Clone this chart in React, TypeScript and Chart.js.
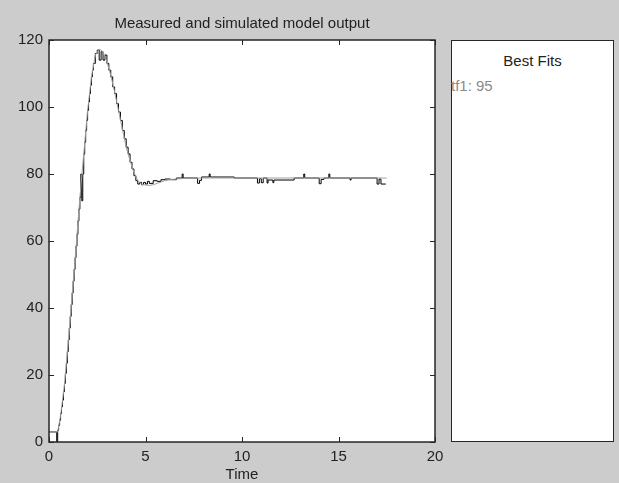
import React, { useEffect, useRef } from "react";
import { Chart, registerables } from "chart.js";

Chart.register(...registerables);

// ---- data ----
const titleText = "Measured and simulated model output";
const xAxisLabel = "Time";
const xTicks = [0, 5, 10, 15, 20];
const yTicks = [0, 20, 40, 60, 80, 100, 120];
const fitTitle = "Best Fits";
const fitEntries = ["tf1: 95"];

// measured output (sample-and-hold, noisy)
const measTime = [
  0, 0.1, 0.2, 0.3, 0.4, 0.45, 0.5, 0.55, 0.6, 0.65, 0.7, 0.75, 0.8, 0.85, 0.9, 0.95, 1.0,
  1.05, 1.1, 1.15, 1.2, 1.25, 1.3, 1.35, 1.4, 1.45, 1.5, 1.55, 1.6, 1.65, 1.7, 1.75, 1.8,
  1.85, 1.9, 1.95, 2.0, 2.05, 2.1, 2.15, 2.2, 2.25, 2.3, 2.4, 2.5, 2.6, 2.7, 2.8, 2.9, 3.0,
  3.1, 3.2, 3.3, 3.4, 3.5, 3.6, 3.7, 3.8, 3.9, 4.0, 4.1, 4.2, 4.3, 4.4, 4.5, 4.6, 4.7, 4.8,
  4.9, 5.0, 5.1, 5.2, 5.4, 5.6, 5.8, 6.0, 6.3, 6.6, 6.9, 6.95, 7.7, 7.8, 7.9, 8.3, 8.35,
  9.6, 10.8, 10.9, 11.0, 11.1, 11.3, 11.35, 11.6, 11.65, 12.7, 13.2, 13.25, 14.0, 14.1,
  14.25, 14.5, 14.55, 15.6, 15.65, 17.0, 17.1, 17.2, 17.45,
];
const measValue = [
  3, 3, 3, 3, 0, 3.5, 5, 6.5, 8.5, 10.5, 12.5, 15, 17.5, 20.5, 23.5, 27, 30.5,
  34, 37.5, 41, 44.5, 48, 51.5, 55, 58.5, 62, 66, 69.5, 73, 80, 72, 80, 86,
  89.5, 93, 96, 99, 101.5, 104, 106.5, 109, 111, 113, 116, 117, 114, 116.5, 114, 115.5, 113,
  111, 109, 106, 104, 101, 98.5, 96, 93, 90.5, 88, 86, 83.5, 81.5, 79.5, 78, 77, 77.5, 76.8,
  77.5, 77, 77.8, 77.2, 78, 77.8, 78.3, 78.5, 78.3, 78.8, 80, 78.8, 77.2, 78.1, 79.1, 80, 79.1,
  78.8, 77.3, 78.6, 77.4, 78.8, 77.3, 78.2, 77.4, 78.2, 78.8, 80, 78.8, 77.1, 78.4,
  78.8, 80, 78.8, 78.2, 78.8, 77, 78.5, 77, 77,
];

// simulated model output (tf1)
const simTime = [
  0, 0.45, 0.6, 0.8, 1.0, 1.2, 1.4, 1.6, 1.8, 2.0, 2.2, 2.4, 2.6, 2.8, 3.0, 3.2, 3.4, 3.6,
  3.8, 4.0, 4.2, 4.4, 4.6, 4.8, 5.0, 5.2, 5.4, 5.6, 5.8, 6.0, 6.4, 7.0, 8.0, 10.0, 12.0,
  14.0, 16.0, 17.5,
];
const simValue = [
  3, 3, 8, 17, 30, 44, 58, 73, 86, 99, 109, 115.5, 117.3, 116.5, 113.5, 109.5, 104.5, 99,
  93.5, 88, 84, 80.5, 78, 77, 76.7, 76.6, 76.8, 77.2, 77.6, 78, 78.4, 78.7, 78.8, 78.8, 78.8,
  78.8, 78.8, 78.8,
];

const FONT = "'Liberation Sans', Arial, sans-serif";
const TEXT = "#222222";

const boxPlugin = {
  id: "matlabBox",
  beforeDraw(chart: any) {
    const { ctx, chartArea } = chart;
    ctx.save();
    ctx.fillStyle = "#ffffff";
    ctx.fillRect(chartArea.left, chartArea.top, chartArea.right - chartArea.left, chartArea.bottom - chartArea.top);
    ctx.restore();
  },
  afterDatasetsDraw(chart: any) {
    const { ctx, chartArea, scales } = chart;
    const { left, right, top, bottom } = chartArea;
    const len = 5;
    ctx.save();
    ctx.strokeStyle = "#262626";
    ctx.lineWidth = 1;
    ctx.beginPath();
    for (const v of xTicks) {
      const px = Math.round(scales.x.getPixelForValue(v)) + 0.5;
      ctx.moveTo(px, bottom);
      ctx.lineTo(px, bottom - len);
      ctx.moveTo(px, top);
      ctx.lineTo(px, top + len);
    }
    for (const v of yTicks) {
      const py = Math.round(scales.y.getPixelForValue(v)) + 0.5;
      ctx.moveTo(left, py);
      ctx.lineTo(left + len, py);
      ctx.moveTo(right, py);
      ctx.lineTo(right - len, py);
    }
    ctx.stroke();
    ctx.lineWidth = 1.5;
    ctx.strokeRect(left, top, right - left, bottom - top);
    ctx.restore();
  },
};

export default function App() {
  const canvasRef = useRef<HTMLCanvasElement | null>(null);

  useEffect(() => {
    if (!canvasRef.current) return;
    const chart = new Chart(canvasRef.current, {
      type: "line",
      data: {
        datasets: [
          {
            label: "tf1",
            data: simTime.map((t, i) => ({ x: t, y: simValue[i] })),
            borderColor: "#a0a0a0",
            borderWidth: 1,
            pointRadius: 0,
            tension: 0,
            order: 0,
          },
          {
            label: "Measured",
            data: measTime.map((t, i) => ({ x: t, y: measValue[i] })),
            borderColor: "#000000",
            borderWidth: 1,
            pointRadius: 0,
            stepped: true,
            order: 1,
          },
        ],
      },
      options: {
        responsive: false,
        animation: false,
        devicePixelRatio: 1,
        layout: { padding: { left: 0, right: 184, top: 0, bottom: 0 } },
        plugins: {
          legend: { display: false },
          tooltip: { enabled: false },
          title: {
            display: true,
            text: titleText,
            fullSize: false,
            color: TEXT,
            font: { family: FONT, size: 15, weight: "normal" },
            padding: { top: 15, bottom: 7 },
          },
        },
        scales: {
          x: {
            type: "linear",
            min: 0,
            max: 20,
            afterBuildTicks: (axis: any) => {
              axis.ticks = xTicks.map((v) => ({ value: v }));
            },
            afterFit: (axis: any) => {
              axis.height = 41;
            },
            grid: { display: false, drawTicks: false },
            border: { display: false },
            ticks: { padding: 6, color: TEXT, font: { family: FONT, size: 15 }, maxRotation: 0 },
            title: {
              display: true,
              text: xAxisLabel,
              color: TEXT,
              font: { family: FONT, size: 15 },
              padding: { top: 0, bottom: -1 },
            },
          },
          y: {
            type: "linear",
            min: 0,
            max: 120,
            afterBuildTicks: (axis: any) => {
              axis.ticks = yTicks.map((v) => ({ value: v }));
            },
            afterFit: (axis: any) => {
              axis.width = 49;
            },
            grid: { display: false, drawTicks: false },
            border: { display: false },
            ticks: { padding: 6, color: TEXT, font: { family: FONT, size: 15 } },
          },
        },
      },
      plugins: [boxPlugin],
    } as any);
    return () => chart.destroy();
  }, []);

  return (
    <div
      style={{
        position: "fixed",
        left: 0,
        top: 0,
        width: 619,
        height: 483,
        background: "#cccccc",
        overflow: "hidden",
      }}
    >
      <canvas ref={canvasRef} width={619} height={483} style={{ position: "absolute", left: 0, top: 0, display: "block" }} />
      <div
        style={{
          position: "absolute",
          left: 451,
          top: 40,
          width: 163,
          height: 402,
          boxSizing: "border-box",
          border: "1.5px solid #262626",
          background: "#ffffff",
          fontFamily: FONT,
          fontSize: 15,
        }}
      >
        <div
          style={{
            position: "absolute",
            left: 0,
            right: 0,
            top: 11,
            lineHeight: "18px",
            textAlign: "center",
            color: TEXT,
          }}
        >
          {fitTitle}
        </div>
        {fitEntries.map((e, i) => (
          <div
            key={e}
            style={{
              position: "absolute",
              left: -1,
              top: 36 + i * 18,
              lineHeight: "18px",
              color: "#8a8a8a",
              whiteSpace: "nowrap",
            }}
          >
            {e}
          </div>
        ))}
      </div>
    </div>
  );
}
